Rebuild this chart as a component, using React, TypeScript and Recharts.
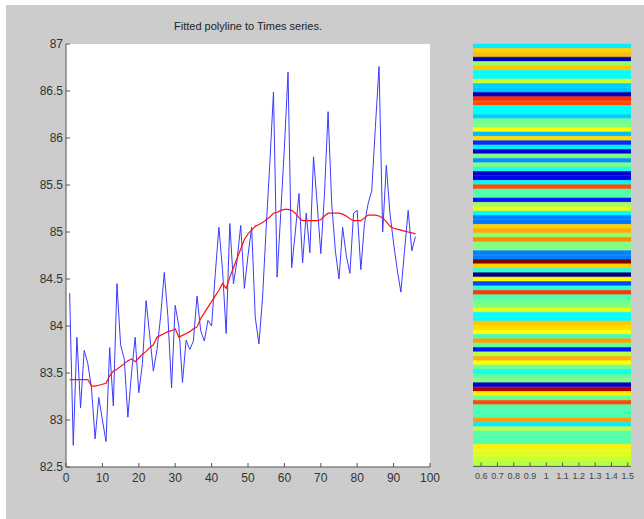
import React from 'react';
import { LineChart, Line, XAxis, YAxis, BarChart, Bar, Cell } from 'recharts';

// Times series samples (x = 1..96) and the fitted polyline
const seriesValues = [
  84.35, 82.73, 83.88, 83.13, 83.74, 83.6, 83.34, 82.8, 83.24, 83.0,
  82.77, 83.77, 83.15, 84.45, 83.8, 83.65, 83.03, 83.5, 83.88, 83.29,
  83.6, 84.27, 83.9, 83.52, 83.75, 84.1, 84.57, 84.1, 83.34, 84.22,
  84.0, 83.4, 83.85, 83.75, 83.84, 84.32, 83.95, 83.84, 84.06, 84.0,
  84.55, 85.05, 84.6, 83.92, 85.09, 84.45, 84.7, 85.07, 84.4, 84.75,
  85.05, 84.09, 83.81, 84.3, 85.05, 85.73, 86.49, 84.52, 85.2, 85.9,
  86.7, 84.62, 85.0, 85.41, 84.67, 85.2, 84.78, 85.8, 85.3, 84.77,
  85.4, 86.28, 85.3, 84.8, 84.5, 85.05, 84.75, 84.56, 85.2, 85.23,
  84.6, 85.09, 85.3, 85.44, 86.12, 86.76, 85.0, 85.71, 85.2, 84.88,
  84.6, 84.36, 84.8, 85.23, 84.8, 84.95,
];

const fitValues = [
  83.43, 83.43, 83.43, 83.43, 83.43, 83.43, 83.36, 83.36, 83.37, 83.38,
  83.39, 83.47, 83.52, 83.54, 83.57, 83.6, 83.63, 83.65, 83.62, 83.66,
  83.7, 83.73, 83.77, 83.8, 83.88, 83.9, 83.92, 83.94, 83.95, 83.97,
  83.88, 83.9, 83.92, 83.94, 83.97, 83.99, 84.08, 84.14, 84.2, 84.26,
  84.32, 84.38, 84.45, 84.4, 84.52, 84.62, 84.72, 84.82, 84.92, 84.98,
  85.02, 85.06, 85.08, 85.1, 85.13, 85.16, 85.2, 85.21, 85.23, 85.24,
  85.24, 85.23, 85.2, 85.15, 85.12, 85.12, 85.12, 85.12, 85.12, 85.13,
  85.17, 85.2, 85.2, 85.2, 85.2, 85.19, 85.17, 85.14, 85.12, 85.12,
  85.12, 85.15, 85.18, 85.18, 85.18, 85.17, 85.15, 85.11, 85.06, 85.04,
  85.03, 85.02, 85.01, 85.0, 84.99, 84.98,
];

const xTicks = [0, 10, 20, 30, 40, 50, 60, 70, 80, 90, 100];
const yTicks = [82.5, 83, 83.5, 84, 84.5, 85, 85.5, 86, 86.5, 87];

// right panel: one jet colormap value per image row (top to bottom)
const rowValues = [
  0.36, 0.67, 0.69, 0.05, 0.52, 0.68, 0.375, 0.375, 0.58, 0.33,
  0.32, 0.06, 0.83, 0.8, 0.375, 0.375, 0.33, 0.48, 0.5, 0.62,
  0.31, 0.66, 0.17, 0.36, 0.08, 0.5, 0.27, 0.5, 0.4, 0.07,
  0.1, 0.37, 0.8, 0.45, 0.46, 0.15, 0.53, 0.61, 0.37, 0.25,
  0.24, 0.67, 0.71, 0.52, 0.74, 0.5, 0.5, 0.25, 0.25, 1.0,
  0.67, 0.42, 0.0, 0.63, 0.2, 0.42, 0.82, 0.45, 0.48, 0.5,
  0.6, 0.375, 0.375, 0.68, 0.66, 0.62, 0.44, 0.72, 0.47, 0.15,
  0.56, 0.7, 0.62, 0.48, 0.39, 0.47, 0.5, 0.08, 0.95, 0.64,
  0.48, 0.8, 0.45, 0.45, 0.45, 0.72, 0.36, 0.55, 0.46, 0.46,
  0.46, 0.64, 0.6, 0.59, 0.57, 0.55,
];
const imageExtent = [0.55, 1.52];
const imageTicks = [0.6, 0.7, 0.8, 0.9, 1, 1.1, 1.2, 1.3, 1.4, 1.5];
const rowTicks = [10, 20, 30, 40, 50, 60, 70, 80, 90];

const lineData = seriesValues.map((v, i) => ({ t: i + 1, y: v, fit: fitValues[i] }));
const rowData = rowValues.map((v, i) => ({ row: i, v, span: imageExtent }));

const clamp = (n: number) => Math.max(0, Math.min(1, n));
const jet = (v: number) => {
  const r = clamp(1.5 - Math.abs(4 * v - 3));
  const g = clamp(1.5 - Math.abs(4 * v - 2));
  const b = clamp(1.5 - Math.abs(4 * v - 1));
  const h = (n: number) => Math.round(n * 255).toString(16).padStart(2, '0');
  return `#${h(r)}${h(g)}${h(b)}`;
};

const FONT = "'Liberation Sans Narrow', 'Liberation Sans', Arial, sans-serif";
const tickStyle = { fontSize: 12, fill: '#333', fontFamily: FONT };
const noLabel = () => <g />;

export default function App() {
  return (
    <div style={{ position: 'absolute', left: 0, top: 0, width: 644, height: 519, background: '#fff' }}>
      <div style={{ position: 'absolute', left: 6, top: 5, width: 638, height: 514, background: '#cccccc' }} />
      <div
        style={{
          position: 'absolute', left: 66, top: 20, width: 364, textAlign: 'center',
          fontFamily: FONT, fontSize: 11, color: '#222',
        }}
      >
        Fitted polyline to Times series.
      </div>

      <div style={{ position: 'absolute', left: 0, top: 0 }}>
        <LineChart width={440} height={500} data={lineData} margin={{ top: 44, right: 10, bottom: 0, left: 0 }}>
          <rect x={66} y={44} width={364} height={423} fill="#fff" />
          <XAxis
            dataKey="t" type="number" domain={[0, 100]} ticks={xTicks} height={33}
            tickSize={-4} tickMargin={10} stroke="#555" tick={tickStyle} interval={0}
          />
          <XAxis
            xAxisId="top" orientation="top" dataKey="t" type="number" domain={[0, 100]} ticks={xTicks}
            height={0} tickSize={-4} stroke="#555" tick={noLabel} interval={0}
          />
          <YAxis
            type="number" domain={[82.5, 87]} ticks={yTicks} width={66}
            tickSize={-4} tickMargin={7} stroke="#555" tick={tickStyle} interval={0}
          />
          <YAxis
            yAxisId="right" orientation="right" type="number" domain={[82.5, 87]} ticks={yTicks}
            width={0} tickSize={-4} stroke="#555" tick={noLabel} interval={0}
          />
          <Line type="linear" dataKey="y" stroke="#3a3aff" strokeWidth={1} dot={false} isAnimationActive={false} />
          <Line type="linear" dataKey="fit" stroke="#ff1010" strokeWidth={1.2} dot={false} isAnimationActive={false} />
        </LineChart>
      </div>

      <div style={{ position: 'absolute', left: 460, top: 0 }}>
        <BarChart
          width={184} height={500} data={rowData} layout="vertical"
          margin={{ top: 44, right: 13, bottom: 0, left: 13 }} barCategoryGap={0} barGap={0}
        >
          <XAxis
            type="number" domain={imageExtent} ticks={imageTicks} height={33.6} allowDataOverflow
            tickSize={-4} tickMargin={10} stroke="#555" interval={0}
            tick={{ fontSize: 9, fill: '#444', fontFamily: FONT }}
          />
          <XAxis
            xAxisId="top" orientation="top" type="number" domain={imageExtent} ticks={imageTicks}
            height={0} tickSize={-4} stroke="#333" tick={noLabel} interval={0} allowDataOverflow
          />
          <YAxis type="category" dataKey="row" hide />
          <YAxis
            yAxisId="right" orientation="right" type="category" dataKey="row" ticks={rowTicks}
            width={0} tickSize={-2} stroke="#888" tick={noLabel} interval={0}
          />
          <Bar dataKey="span" isAnimationActive={false}>
            {rowData.map((r, i) => (
              <Cell key={`row-${i}`} fill={jet(r.v)} stroke={jet(r.v)} strokeWidth={0.6} />
            ))}
          </Bar>
        </BarChart>
      </div>
    </div>
  );
}
